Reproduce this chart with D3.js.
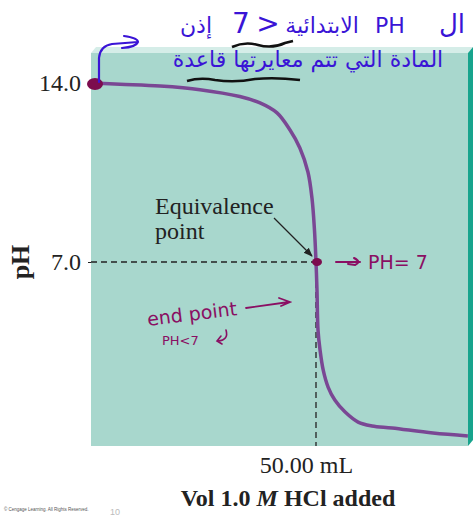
<!DOCTYPE html>
<html>
<head>
<meta charset="utf-8">
<script src="https://cdn.jsdelivr.net/npm/d3@7"></script>
<style>
  body { margin: 0; background: #fff; }
  svg { display: block; }
</style>
</head>
<body>
<svg id="chart" width="473" height="517"></svg>
<script>
// titration curve (volume of HCl in mL, pH)
let volume = [0, 6.25, 15.2, 24.1, 33.0, 37.5, 41.3, 44.2, 46.4, 48.2, 49.1, 49.66, 50.0, 50.22, 50.45, 50.9, 51.6, 52.7, 54.2, 56.5, 59.4, 62.5, 67.0, 76.1, 83.9];
let pH = [14.0, 13.95, 13.88, 13.74, 13.47, 13.22, 12.83, 12.16, 11.46, 10.52, 9.5, 8.25, 7.0, 5.9, 4.34, 3.56, 2.78, 2.11, 1.6, 1.13, 0.74, 0.59, 0.51, 0.31, 0.2];
let yTicks = [7, 14];
let xTicks = [50];
let equivalence = { vol: 50, pH: 7 };

let curveData = volume.map(function(v, i) { return { v: v, p: pH[i] }; });

var svg = d3.select("#chart");
var serif = "Liberation Serif, Times New Roman, serif";
var hand = "DejaVu Sans, sans-serif";
var blue = "#3a14d6";
var magenta = "#8a0f63";

var boxLeft = 91, boxRight = 468, boxTop = 53, boxBottom = 446;

var x = d3.scaleLinear().domain([0, 50]).range([92, 316]);
var y = d3.scaleLinear().domain([7, 14]).range([262, 83]);

// plot box with its bevel edges
svg.append("polygon")
    .attr("points", [[boxLeft, boxTop], [boxLeft + 5, boxTop - 6], [boxRight + 5, boxTop - 6], [boxRight, boxTop]].join(" "))
    .attr("fill", "#d5ede8");
svg.append("polygon")
    .attr("points", [[boxRight, boxTop], [boxRight + 5, boxTop - 6], [boxRight + 5, boxBottom - 6], [boxRight, boxBottom]].join(" "))
    .attr("fill", "#17a48d");
svg.append("rect")
    .attr("x", boxLeft).attr("y", boxTop)
    .attr("width", boxRight - boxLeft).attr("height", boxBottom - boxTop)
    .attr("fill", "#a8d7cd");

// dashed guides to the equivalence point
svg.append("line")
    .attr("x1", boxLeft).attr("x2", x(equivalence.vol))
    .attr("y1", y(equivalence.pH)).attr("y2", y(equivalence.pH))
    .attr("stroke", "#222").attr("stroke-width", 1.3)
    .attr("stroke-dasharray", "6,4");
svg.append("line")
    .attr("x1", x(equivalence.vol)).attr("x2", x(equivalence.vol))
    .attr("y1", y(equivalence.pH)).attr("y2", boxBottom)
    .attr("stroke", "#222").attr("stroke-width", 1.3)
    .attr("stroke-dasharray", "6,4");

// curve
svg.append("path")
    .datum(curveData)
    .attr("fill", "none")
    .attr("stroke", "#7a4794")
    .attr("stroke-width", 3.5)
    .attr("d", d3.line()
        .x(function(d) { return x(d.v); })
        .y(function(d) { return y(d.p); })
        .curve(d3.curveCatmullRom.alpha(0.5)));

// y axis
var yAxis = svg.append("g")
    .attr("transform", "translate(" + boxLeft + ",0)")
    .call(d3.axisLeft(y).tickValues(yTicks).tickFormat(d3.format(".1f")).tickSize(3).tickPadding(7))
    .attr("font-family", serif).attr("font-size", 24);
yAxis.select(".domain").remove();
yAxis.selectAll("line").attr("stroke", "#222");
yAxis.selectAll("text").attr("fill", "#222");

svg.append("text")
    .attr("transform", "translate(29," + y(7) + ") rotate(-90)")
    .attr("text-anchor", "middle")
    .attr("font-family", serif).attr("font-size", 26).attr("font-weight", "bold")
    .attr("fill", "#222")
    .text("pH");

// x axis
var xAxis = svg.append("g")
    .attr("transform", "translate(0," + boxBottom + ")")
    .call(d3.axisBottom(x).tickValues(xTicks).tickFormat(function(d) { return d3.format(".2f")(d) + " mL"; }).tickSize(0).tickPadding(10))
    .attr("font-family", serif).attr("font-size", 24);
xAxis.select(".domain").remove();
xAxis.selectAll("text").attr("dx", -10).attr("fill", "#222");

var xl = svg.append("text")
    .attr("x", 288).attr("y", 506)
    .attr("text-anchor", "middle")
    .attr("font-family", serif).attr("font-size", 24).attr("font-weight", "bold")
    .attr("fill", "#222");
xl.append("tspan").text("Vol 1.0 ");
xl.append("tspan").attr("font-style", "italic").text("M");
xl.append("tspan").text(" HCl added");

svg.append("text")
    .attr("x", 4).attr("y", 511)
    .attr("font-family", "Arial, sans-serif").attr("font-size", 4.5).attr("fill", "#555")
    .text("© Cengage Learning. All Rights Reserved.");
svg.append("text")
    .attr("x", 110).attr("y", 515)
    .attr("font-family", "Arial, sans-serif").attr("font-size", 9).attr("fill", "#bbb")
    .text("10");

// equivalence label and arrow
svg.append("defs").append("marker")
    .attr("id", "ah").attr("viewBox", "0 0 10 10")
    .attr("refX", 9).attr("refY", 5)
    .attr("markerWidth", 7).attr("markerHeight", 7)
    .attr("orient", "auto")
    .append("path").attr("d", "M0,1 L10,5 L0,9 z").attr("fill", "#222");

svg.append("text")
    .attr("x", 155).attr("y", 214)
    .attr("font-family", serif).attr("font-size", 24).attr("fill", "#222")
    .text("Equivalence");
svg.append("text")
    .attr("x", 155).attr("y", 239)
    .attr("font-family", serif).attr("font-size", 24).attr("fill", "#222")
    .text("point");
svg.append("line")
    .attr("x1", 274).attr("y1", 218)
    .attr("x2", 312).attr("y2", 256)
    .attr("stroke", "#222").attr("stroke-width", 1.3)
    .attr("marker-end", "url(#ah)");

// handwritten marks
svg.append("ellipse")
    .attr("cx", x(0) + 3).attr("cy", y(14) + 1)
    .attr("rx", 8).attr("ry", 6)
    .attr("fill", "#7c0c4e");
svg.append("ellipse")
    .attr("cx", x(equivalence.vol) + 1).attr("cy", y(equivalence.pH))
    .attr("rx", 5).attr("ry", 4)
    .attr("fill", "#7c0c4e");

svg.append("path")
    .attr("d", "M99,82 L99,58 Q100,46 112,44 L138,42 M124,36 Q138,38 138,42 Q136,47 122,48")
    .attr("fill", "none").attr("stroke", blue).attr("stroke-width", 2.2)
    .attr("stroke-linecap", "round");

// arabic notes, first line laid out piece by piece
var line1 = [
    { t: "إذن", x: 196, s: 22 },
    { t: "7", x: 241, s: 28 },
    { t: ">", x: 268, s: 28 },
    { t: "الابتدائية", x: 322, s: 22 },
    { t: "PH", x: 390, s: 22 },
    { t: "ال", x: 452, s: 26 }
];
svg.selectAll(".l1").data(line1).enter().append("text")
    .attr("x", function(d) { return d.x; })
    .attr("y", 33)
    .attr("text-anchor", "middle")
    .attr("font-family", hand).attr("font-size", function(d) { return d.s; })
    .attr("fill", blue)
    .text(function(d) { return d.t; });

svg.append("text")
    .attr("x", 308).attr("y", 67)
    .attr("text-anchor", "middle")
    .attr("font-family", hand).attr("font-size", 22)
    .attr("fill", blue)
    .text("المادة التي تتم معايرتها قاعدة");

svg.append("path")
    .attr("d", "M232,47 Q245,41 258,45 Q272,49 285,43 L293,41")
    .attr("fill", "none").attr("stroke", "#111").attr("stroke-width", 2.5);
svg.append("path")
    .attr("d", "M187,81 Q200,77 215,80 Q235,83 255,79 Q275,77 300,80")
    .attr("fill", "none").attr("stroke", "#111").attr("stroke-width", 2.5);

// magenta notes
svg.append("path")
    .attr("d", "M336,262 L360,262 M354,258 Q362,262 355,265 L348,264")
    .attr("fill", "none").attr("stroke", magenta).attr("stroke-width", 2)
    .attr("stroke-linecap", "round");
svg.append("text")
    .attr("x", 368).attr("y", 269)
    .attr("font-family", hand).attr("font-size", 19)
    .attr("fill", magenta)
    .text("PH= 7");

svg.append("text")
    .attr("transform", "translate(148,326) rotate(-7)")
    .attr("font-family", hand).attr("font-size", 19)
    .attr("fill", magenta)
    .text("end point");
svg.append("path")
    .attr("d", "M246,308 L289,302 M279,298 L290,302 L281,306")
    .attr("fill", "none").attr("stroke", magenta).attr("stroke-width", 1.8)
    .attr("stroke-linecap", "round");
svg.append("text")
    .attr("x", 162).attr("y", 345)
    .attr("font-family", hand).attr("font-size", 13)
    .attr("fill", magenta)
    .text("PH<7");
svg.append("path")
    .attr("d", "M226,330 Q229,340 218,341 M221,336 L217,341 L222,344")
    .attr("fill", "none").attr("stroke", magenta).attr("stroke-width", 1.6)
    .attr("stroke-linecap", "round");
</script>
</body>
</html>
